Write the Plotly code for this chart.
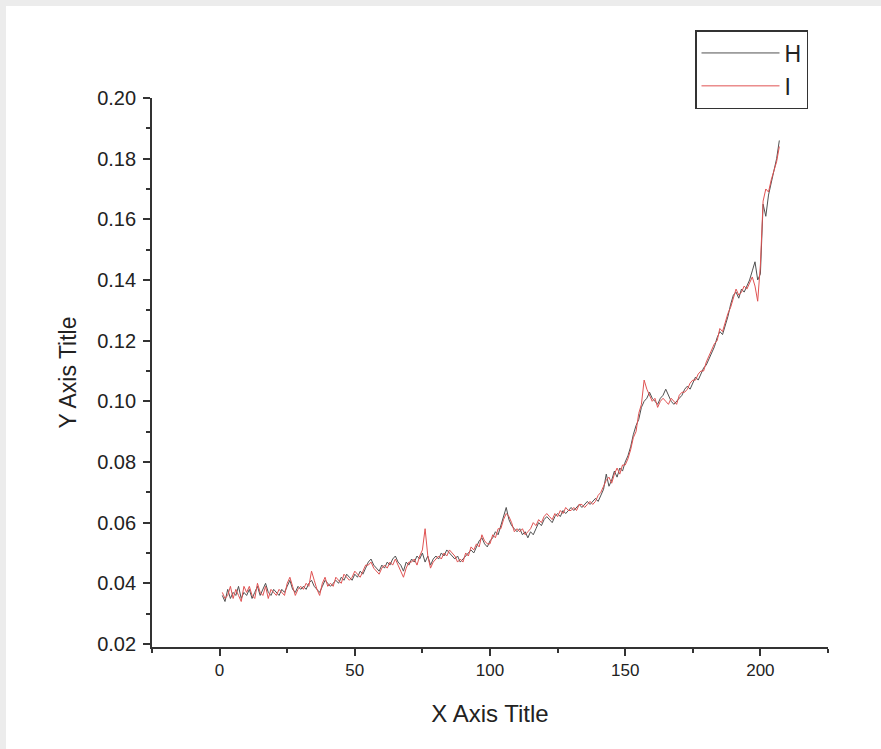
import plotly.graph_objects as go

x_vals = list(range(1, 208))

H = [
    0.036, 0.034, 0.038, 0.035, 0.037, 0.036, 0.039, 0.035, 0.037, 0.036,
    0.038, 0.035, 0.037, 0.039, 0.036, 0.038, 0.040, 0.037, 0.036, 0.038,
    0.037, 0.036, 0.038, 0.037, 0.039, 0.041, 0.038, 0.037, 0.039, 0.038,
    0.039, 0.038, 0.040, 0.041, 0.039, 0.038, 0.037, 0.039, 0.041, 0.040,
    0.039, 0.040, 0.041, 0.040, 0.042, 0.041, 0.043, 0.042, 0.041, 0.043,
    0.042, 0.044, 0.043, 0.045, 0.047, 0.048, 0.046, 0.045, 0.044, 0.046,
    0.045, 0.047, 0.046, 0.048, 0.049, 0.047, 0.046, 0.044, 0.047, 0.046,
    0.048, 0.047, 0.049, 0.048, 0.050, 0.047, 0.049, 0.046, 0.048, 0.049,
    0.048, 0.050, 0.049, 0.051, 0.050, 0.049, 0.048, 0.049, 0.047, 0.048,
    0.049, 0.050, 0.051, 0.050, 0.052, 0.054, 0.055, 0.053, 0.052, 0.054,
    0.055, 0.057, 0.056, 0.059, 0.062, 0.065, 0.061, 0.059, 0.058, 0.057,
    0.058, 0.056, 0.057, 0.055, 0.057, 0.056, 0.058, 0.060, 0.059, 0.061,
    0.062, 0.061, 0.060, 0.062, 0.063, 0.062, 0.064, 0.063, 0.064, 0.065,
    0.064, 0.065, 0.066, 0.065, 0.066, 0.067, 0.066, 0.067, 0.068, 0.067,
    0.069, 0.071, 0.076, 0.072, 0.074, 0.077, 0.075, 0.078, 0.077, 0.080,
    0.082, 0.085, 0.089, 0.092, 0.094, 0.098, 0.100, 0.101, 0.103, 0.101,
    0.100, 0.099, 0.101, 0.102, 0.104, 0.102, 0.100, 0.099, 0.100, 0.101,
    0.102, 0.104, 0.105, 0.104, 0.106, 0.108, 0.107, 0.109, 0.111, 0.112,
    0.114, 0.116, 0.118, 0.121, 0.123, 0.122, 0.125, 0.128, 0.132, 0.135,
    0.136, 0.134, 0.137, 0.136, 0.138, 0.140, 0.143, 0.146, 0.140, 0.142,
    0.165, 0.161, 0.168, 0.172, 0.175, 0.180, 0.186,
]

I = [
    0.037, 0.035, 0.036, 0.039, 0.035, 0.038, 0.036, 0.034, 0.039, 0.037,
    0.039, 0.036, 0.035, 0.040, 0.037, 0.036, 0.039, 0.035, 0.038, 0.037,
    0.036, 0.038, 0.037, 0.036, 0.040, 0.042, 0.039, 0.036, 0.038, 0.039,
    0.038, 0.040, 0.039, 0.044, 0.041, 0.038, 0.036, 0.040, 0.042, 0.039,
    0.040, 0.039, 0.042, 0.041, 0.040, 0.043, 0.042, 0.041, 0.042, 0.044,
    0.043, 0.042, 0.044, 0.046, 0.046, 0.047, 0.045, 0.044, 0.043, 0.045,
    0.046, 0.045, 0.047, 0.046, 0.048, 0.046, 0.044, 0.042, 0.045, 0.047,
    0.047, 0.048, 0.046, 0.049, 0.051, 0.058, 0.049, 0.045, 0.047, 0.048,
    0.049, 0.048, 0.050, 0.049, 0.051, 0.050, 0.049, 0.047, 0.048, 0.047,
    0.050, 0.049, 0.052, 0.051, 0.053, 0.052, 0.056, 0.054, 0.053, 0.053,
    0.056, 0.055, 0.058, 0.058, 0.061, 0.063, 0.062, 0.060, 0.057, 0.058,
    0.057, 0.058, 0.056, 0.057, 0.058, 0.060, 0.059, 0.061, 0.060, 0.062,
    0.063, 0.062, 0.061, 0.063, 0.062, 0.064, 0.063, 0.065, 0.064, 0.064,
    0.065, 0.064, 0.066, 0.066, 0.065, 0.066, 0.067, 0.066, 0.067, 0.069,
    0.070, 0.072, 0.074, 0.075, 0.073, 0.076, 0.078, 0.076, 0.079, 0.079,
    0.081, 0.084, 0.088, 0.090, 0.096, 0.099, 0.107, 0.104, 0.102, 0.100,
    0.101, 0.098, 0.100, 0.101, 0.100, 0.099, 0.101, 0.100, 0.099, 0.102,
    0.103, 0.103, 0.104, 0.106, 0.107, 0.107, 0.109, 0.110, 0.110, 0.113,
    0.115, 0.117, 0.119, 0.120, 0.124, 0.123, 0.126, 0.129, 0.131, 0.134,
    0.137, 0.135, 0.136, 0.138, 0.137, 0.139, 0.141, 0.138, 0.133, 0.145,
    0.166, 0.170, 0.169, 0.173, 0.176, 0.179, 0.184,
]

x_ticks = [0, 50, 100, 150, 200]
x_minor = [-25, 25, 75, 125, 175, 225]
y_ticks = [0.02, 0.04, 0.06, 0.08, 0.10, 0.12, 0.14, 0.16, 0.18, 0.20]
y_minor = [0.03, 0.05, 0.07, 0.09, 0.11, 0.13, 0.15, 0.17, 0.19]

FONT = "Liberation Sans, Arial, sans-serif"
TXT = "#222222"

fig = go.Figure()
fig.add_trace(go.Scatter(x=x_vals, y=H, mode="lines", name="H",
                         line=dict(color="#505050", width=1)))
fig.add_trace(go.Scatter(x=x_vals, y=I, mode="lines", name="I",
                         line=dict(color="#e05252", width=1)))

L, R, T, B = 152, 53, 98, 102
W, Hh = 881, 749
pw, ph = W - L - R, Hh - T - B


def px_x(p):
    return (p - L) / pw


def px_y(p):
    return (Hh - B - p) / ph


fig.add_shape(type="rect", xref="paper", yref="paper",
              x0=px_x(6), x1=px_x(900), y0=px_y(760), y1=px_y(6),
              fillcolor="white", line=dict(width=0), layer="below")

fig.update_layout(
    width=W, height=Hh,
    margin=dict(l=L, r=R, t=T, b=B),
    paper_bgcolor="#ececec",
    plot_bgcolor="rgba(0,0,0,0)",
    font=dict(family=FONT, color=TXT),
    showlegend=True,
    legend=dict(
        x=px_x(808), y=px_y(30), xanchor="right", yanchor="top",
        bordercolor="#333", borderwidth=1.5, bgcolor="white",
        font=dict(size=23, color=TXT), itemwidth=78,
        tracegroupgap=0,
    ),
    xaxis=dict(
        range=[-25, 225], tickmode="array", tickvals=x_ticks,
        ticks="outside", ticklen=7, tickwidth=1.5, tickcolor="#333",
        minor=dict(tickvals=x_minor, ticks="outside",
                   ticklen=4, tickwidth=1.5, tickcolor="#333"),
        showline=True, linecolor="#333", linewidth=1.8,
        showgrid=False, zeroline=False,
        tickfont=dict(size=17, family=FONT, color=TXT),
        title=dict(text="X Axis Title", font=dict(size=24, family=FONT, color=TXT),
                   standoff=26),
    ),
    yaxis=dict(
        range=[0.019, 0.20], tickmode="array", tickvals=y_ticks,
        tickformat=".2f",
        ticks="outside", ticklen=7, tickwidth=1.5, tickcolor="#333",
        minor=dict(tickvals=y_minor, ticks="outside",
                   ticklen=4, tickwidth=1.5, tickcolor="#333"),
        showline=True, linecolor="#333", linewidth=1.8,
        showgrid=False, zeroline=False,
        tickfont=dict(size=20, family=FONT, color=TXT),
        ticklabelstandoff=3,
        title=dict(text="Y Axis Title", font=dict(size=23, family=FONT, color=TXT),
                   standoff=14),
    ),
)

fig.write_html(
    "out.html",
    config={"displayModeBar": False},
    post_script=("document.body.style.margin='0';"
                 "document.body.style.overflow='hidden';"
                 "document.documentElement.style.overflow='hidden';"),
)
